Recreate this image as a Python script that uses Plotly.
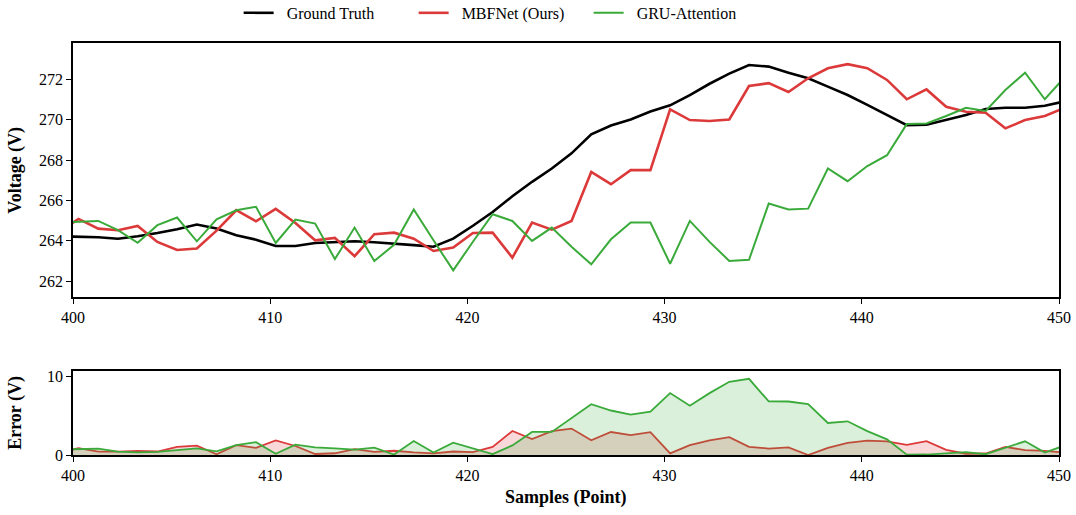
import numpy as np
import plotly.graph_objects as go

# ---------------- data ----------------
sample_index = list(range(399, 451))
sample_offset = 0.28

ground_truth = [264.22,
    264.20, 264.17, 264.10, 264.22, 264.38, 264.57, 264.80, 264.60, 264.27, 264.05,
    263.74, 263.74, 263.89, 263.92, 263.97, 263.92, 263.86, 263.78, 263.70, 264.10,
    264.74, 265.42, 266.20, 266.92, 267.58, 268.33, 269.27, 269.71, 270.01, 270.40,
    270.71, 271.22, 271.78, 272.28, 272.71, 272.63, 272.33, 272.05, 271.64, 271.22,
    270.73, 270.23, 269.73, 269.75, 269.98, 270.23, 270.53, 270.59, 270.59, 270.69,
    270.90]

mbfnet = [264.43,
    265.08, 264.60, 264.52, 264.73, 263.94, 263.54, 263.61, 264.50, 265.51, 264.96,
    265.58, 264.88, 264.02, 264.14, 263.23, 264.32, 264.40, 264.10, 263.49, 263.66,
    264.38, 264.40, 263.16, 264.90, 264.55, 264.98, 267.41, 266.80, 267.50, 267.50,
    270.51, 269.98, 269.93, 270.01, 271.67, 271.81, 271.37, 272.05, 272.55, 272.75,
    272.55, 271.97, 271.01, 271.50, 270.64, 270.39, 270.34, 269.57, 269.98, 270.18,
    270.58]

gru_attention = [264.90,
    264.95, 264.98, 264.52, 263.90, 264.77, 265.15, 263.97, 265.06, 265.51, 265.68,
    263.89, 265.05, 264.85, 263.09, 264.65, 262.99, 263.80, 265.55, 264.02, 262.53,
    263.95, 265.31, 264.98, 263.99, 264.65, 263.70, 262.83, 264.07, 264.90, 264.90,
    262.86, 264.98, 263.94, 263.00, 263.05, 265.84, 265.55, 265.59, 267.58, 266.95,
    267.70, 268.24, 269.78, 269.81, 270.18, 270.59, 270.43, 271.47, 272.33, 271.01,
    272.10]

series_names = ["Ground Truth", "MBFNet (Ours)", "GRU-Attention"]
x_ticks = [400, 410, 420, 430, 440, 450]
v_ticks = [262, 264, 266, 268, 270, 272]
e_ticks = [0, 10]

# ---------------- derived ----------------
x = np.array(sample_index, dtype=float) + sample_offset
gt = np.array(ground_truth)
err_mbf = np.abs(np.array(mbfnet) - gt)
err_gru = np.abs(np.array(gru_attention) - gt)

BLACK = "#000000"
RED = "#dc3a3a"
GREEN = "#3aaa3a"
FONT = "Liberation Serif"
PAD = "\u00a0\u00a0"

fig = go.Figure()

fig.add_trace(go.Scatter(x=x, y=ground_truth, mode="lines", name=PAD + series_names[0],
                         line=dict(color=BLACK, width=2.6), xaxis="x", yaxis="y"))
fig.add_trace(go.Scatter(x=x, y=mbfnet, mode="lines", name=PAD + series_names[1],
                         line=dict(color=RED, width=2.6), xaxis="x", yaxis="y"))
fig.add_trace(go.Scatter(x=x, y=gru_attention, mode="lines", name=PAD + series_names[2],
                         line=dict(color=GREEN, width=2.0), xaxis="x", yaxis="y"))

fig.add_trace(go.Scatter(x=x, y=err_mbf, mode="lines", fill="tozeroy",
                         fillcolor="rgba(220,58,58,0.2)", showlegend=False,
                         line=dict(color=RED, width=1.8), xaxis="x2", yaxis="y2"))
fig.add_trace(go.Scatter(x=x, y=err_gru, mode="lines", fill="tozeroy",
                         fillcolor="rgba(58,170,58,0.18)", showlegend=False,
                         line=dict(color=GREEN, width=1.8), xaxis="x2", yaxis="y2"))

axis_common = dict(showline=True, linecolor="black", linewidth=1.5, mirror=True,
                   ticks="outside", ticklen=5, tickwidth=1.3, tickcolor="black",
                   showgrid=False, zeroline=False,
                   tickfont=dict(family=FONT, size=16, color="black"))

fig.update_layout(
    width=1076, height=515,
    margin=dict(l=73, r=17, t=43, b=60, autoexpand=False),
    paper_bgcolor="white", plot_bgcolor="white",
    font=dict(family=FONT, size=16, color="black"),
    xaxis=dict(domain=[0, 1], anchor="y", range=[400, 450], tickvals=x_ticks, **axis_common),
    yaxis=dict(domain=[0.384, 1], anchor="x", range=[261.22, 273.8], tickvals=v_ticks, **axis_common),
    xaxis2=dict(domain=[0, 1], anchor="y2", range=[400, 450], tickvals=x_ticks, **axis_common),
    yaxis2=dict(domain=[0, 0.203], anchor="x2", range=[0, 10.6], tickvals=e_ticks, **axis_common),
    legend=dict(orientation="h", x=0.168, xanchor="left", y=1.073, yanchor="middle",
                font=dict(family=FONT, size=16, color="black"), bgcolor="rgba(0,0,0,0)",
                traceorder="normal", entrywidth=130),
    annotations=[
        dict(text="<b>Voltage (V)</b>", x=-0.058, y=0.692, xref="paper", yref="paper",
             textangle=-90, showarrow=False, xanchor="center", yanchor="middle",
             font=dict(family=FONT, size=18, color="black")),
        dict(text="<b>Error (V)</b>", x=-0.058, y=0.102, xref="paper", yref="paper",
             textangle=-90, showarrow=False, xanchor="center", yanchor="middle",
             font=dict(family=FONT, size=18, color="black")),
        dict(text="<b>Samples (Point)</b>", x=0.5, y=-0.104, xref="paper", yref="paper",
             showarrow=False, xanchor="center", yanchor="middle",
             font=dict(family=FONT, size=18, color="black")),
    ],
)

fig.write_html("out.html")
